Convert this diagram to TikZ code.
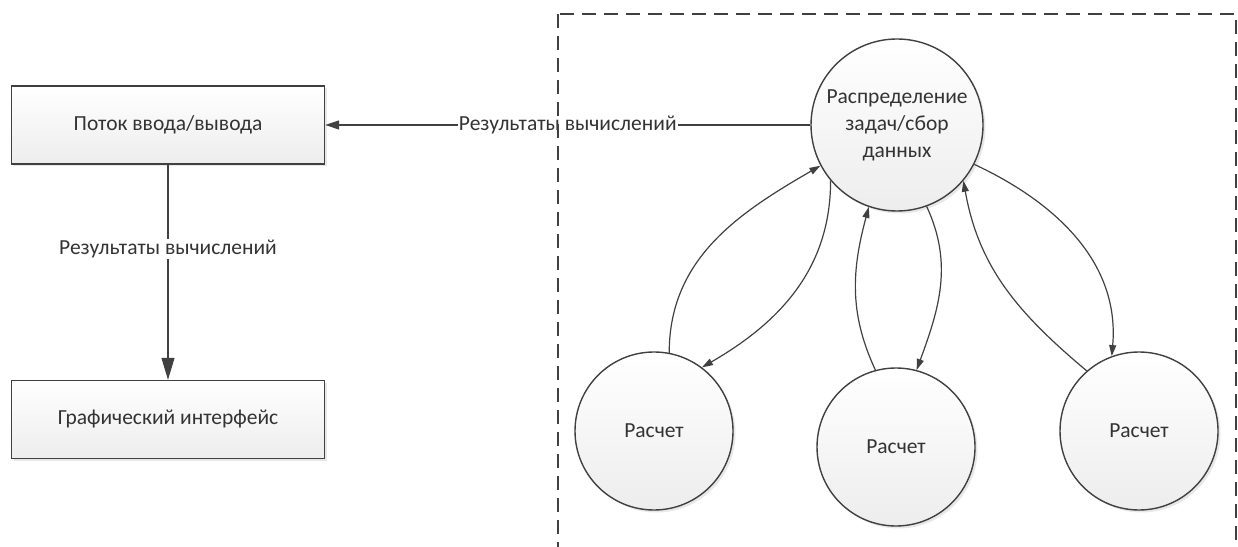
\documentclass[tikz,border=0pt]{standalone}
\usepackage{fontspec}
\setmainfont{Carlito}
\usetikzlibrary{arrows.meta,shadows}
\definecolor{ln}{HTML}{404040}
\definecolor{tx}{HTML}{333333}
\definecolor{fillb}{HTML}{EDEDED}
\tikzset{
  base/.style={draw=ln, line width=1.4pt, top color=white, bottom color=fillb, text=tx,
    font=\fontsize{21.5}{27}\selectfont,
    drop shadow={opacity=0.18, shadow xshift=2.5pt, shadow yshift=-2.5pt}},
  boxnode/.style={base, rectangle, minimum width=313pt, minimum height=78pt, inner sep=0pt},
  bigcirc/.style={base, circle, minimum size=172pt, inner sep=0pt, align=center},
  smallcirc/.style={base, circle, minimum size=158pt, inner sep=0pt},
  conn/.style={draw=ln, line width=1.2pt},
  bigtip/.style={conn, -{Triangle[length=22pt,width=13pt]}},
  midtip/.style={conn, -{Triangle[length=14pt,width=9pt]}},
  smalltip/.style={conn, -{Triangle[length=11pt,width=7pt]}},
  lbl/.style={fill=white, text=tx, font=\fontsize{21.5}{27}\selectfont, inner sep=1pt},
  frame/.style={draw=ln, line width=1.8pt, dash pattern=on 14pt off 8pt}
}
\begin{document}
\begin{tikzpicture}[x=1pt,y=1pt]
\useasboundingbox (0,0) rectangle (1238,546);
\node[boxnode] (io) at (168,421) {Поток ввода/вывода};
\node[boxnode] (gui) at (168,126.5) {Графический интерфейс};
\node[bigcirc] (T) at (897,421) {Распределение\\задач/сбор\\данных};
\node[smallcirc] (L) at (654,115) {Расчет};
\node[smallcirc] (M) at (896,99) {Расчет};
\node[smallcirc] (R) at (1139,115) {Расчет};

\draw[midtip] (T.west) -- node[lbl, midway] {Результаты вычислений} (io.east);
\draw[bigtip] (io.south) -- node[lbl, pos=0.39] {Результаты вычислений} (gui.north);

\draw[smalltip] (L.79) to[out=90, in=210] (T.208);
\draw[smalltip] (T.220) to[out=270, in=30] (L.53);
\draw[smalltip] (M.105) to[out=115, in=255] (T.251);
\draw[smalltip] (T.290) to[out=295, in=70] (M.75);
\draw[smalltip] (R.131) to[out=140, in=280] (T.320);
\draw[smalltip] (T.333) to[out=335, in=85] (R.110);

\coordinate (f1) at (558,532);
\coordinate (f2) at (1236,-30);
\draw[frame] (f1) rectangle (f2);
\end{tikzpicture}
\end{document}
